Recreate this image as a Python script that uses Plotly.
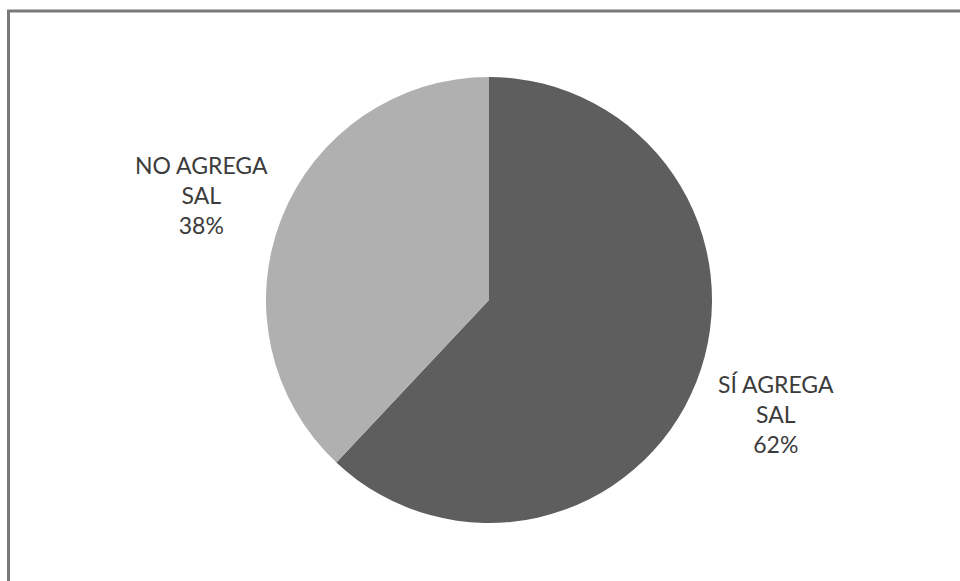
import plotly.graph_objects as go

labels = ["SÍ AGREGA<br>SAL", "NO AGREGA<br>SAL"]
values = [62, 38]
colors = ["#5e5e5e", "#b0b0b0"]

W, H = 960, 581
cx, cy, r = 489, 300, 223

fig = go.Figure(go.Pie(
    labels=labels,
    values=values,
    sort=False,
    direction="clockwise",
    rotation=0,
    marker=dict(colors=colors, line=dict(width=0)),
    textinfo="none",
    hoverinfo="label+percent",
    showlegend=False,
    domain=dict(x=[(cx - r) / W, (cx + r) / W],
                y=[1 - (cy + r) / H, 1 - (cy - r) / H]),
))

# label positions (pixel centres) for each slice
label_pos = [(776, 414), (201, 195)]
total = sum(values)
for lab, val, (px, py) in zip(labels, values, label_pos):
    fig.add_annotation(
        x=px / W, y=1 - py / H, xref="paper", yref="paper",
        text=f"{lab}<br>{round(100 * val / total)}%",
        showarrow=False, align="center",
        xanchor="center", yanchor="middle",
        font=dict(family="Lato", size=23, color="#3c3c3c"),
    )

# chart frame (left and top edges)
fig.add_shape(type="line", xref="paper", yref="paper",
              x0=8.5 / W, x1=8.5 / W, y0=0, y1=1 - 10 / H,
              line=dict(color="#7a7a7a", width=3))
fig.add_shape(type="line", xref="paper", yref="paper",
              x0=7 / W, x1=1, y0=1 - 11 / H, y1=1 - 11 / H,
              line=dict(color="#7a7a7a", width=3))

fig.update_layout(
    width=W, height=H,
    margin=dict(l=0, r=0, t=0, b=0),
    paper_bgcolor="white",
    plot_bgcolor="white",
)

fig.write_html("out.html")
